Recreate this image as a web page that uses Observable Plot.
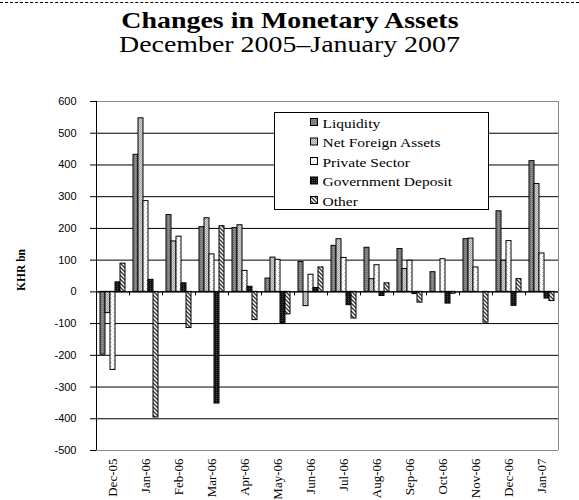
<!DOCTYPE html>
<html>
<head>
<meta charset="utf-8">
<script src="https://cdn.jsdelivr.net/npm/d3@7"></script>
<script src="https://cdn.jsdelivr.net/npm/@observablehq/plot@0.6"></script>
<style>
  body { margin: 0; background: #fff; }
  #wrap { position: relative; width: 579px; height: 500px; overflow: hidden; background: #fff; }
  #dash { position: absolute; left: 0; top: 2px; width: 579px; border-top: 1px dashed #000; }
  .ttl { position: absolute; left: 0; width: 579px; text-align: center; white-space: nowrap;
         font-family: "Liberation Serif", "Times New Roman", serif; font-size: 22.5px; color: #000; line-height: 25px; }
  .ttl span { display: inline-block; transform: scaleX(1.24); transform-origin: center; }
  #title { top: 8px; font-weight: bold; }
  #subtitle { top: 32px; }
  #chart { position: absolute; left: 0; top: 70px; }
  #ylabel { position: absolute; left: 21px; top: 270px; transform: translate(-50%, -50%) rotate(-90deg);
            font-family: "Liberation Serif", "Times New Roman", serif; font-weight: bold; font-size: 11.5px; white-space: nowrap; }
  #legend { position: absolute; left: 274px; top: 112px; }
  #chart svg [aria-label="y-axis tick label"] text { font-family: "Liberation Sans", Arial, sans-serif; font-size: 11px; }
  #chart svg [aria-label="fx-axis tick label"] text { font-family: "Liberation Serif", "Times New Roman", serif; font-size: 13px; }
</style>
</head>
<body>
<div id="wrap">
  <svg width="0" height="0" style="position:absolute">
    <defs>
      <pattern id="pLiq" width="2" height="2" patternUnits="userSpaceOnUse">
        <rect width="2" height="2" fill="#8a8a8a"/><rect width="1" height="1" fill="#666666"/>
      </pattern>
      <pattern id="pNfa" width="2" height="2" patternUnits="userSpaceOnUse">
        <rect width="2" height="2" fill="#d6d6d6"/><rect width="1" height="1" fill="#a4a4a4"/><rect x="1" y="1" width="1" height="1" fill="#a4a4a4"/>
      </pattern>
      <pattern id="pPriv" width="4" height="4" patternUnits="userSpaceOnUse">
        <rect width="4" height="4" fill="#ffffff"/><rect width="1" height="1" fill="#c4c4c4"/><rect x="2" y="2" width="1" height="1" fill="#c4c4c4"/>
      </pattern>
      <pattern id="pGov" width="2" height="2" patternUnits="userSpaceOnUse">
        <rect width="2" height="2" fill="#111111"/><rect width="1" height="1" fill="#4a4a4a"/>
      </pattern>
      <pattern id="pOther" width="4" height="4" patternUnits="userSpaceOnUse">
        <rect width="4" height="4" fill="#ffffff"/>
        <path d="M-1,-1 L5,5 M-1,3 L1,5 M3,-1 L5,1" stroke="#333333" stroke-width="1.3"/>
      </pattern>
    </defs>
  </svg>
  <div id="dash"></div>
  <div id="title" class="ttl"><span>Changes in Monetary Assets</span></div>
  <div id="subtitle" class="ttl"><span>December 2005–January 2007</span></div>
  <div id="chart"></div>
  <div id="ylabel">KHR bn</div>
  <div id="legend"></div>
</div>
<script>
// ---- data ----
const months = ["Dec-05","Jan-06","Feb-06","Mar-06","Apr-06","May-06","Jun-06","Jul-06","Aug-06","Sep-06","Oct-06","Nov-06","Dec-06","Jan-07"];
const seriesNames = ["Liquidity","Net Foreign Assets","Private Sector","Government Deposit","Other"];
const liquidity         = [-198, 432, 242, 204, 201,  42,  94, 145, 139, 135,  62, 166, 254, 412];
const netForeignAssets  = [ -67, 547, 159, 232, 210, 108, -45, 166,  40,  72,   0, 168,  98, 340];
const privateSector     = [-246, 286, 174, 118,  66, 101,  54, 107,  84,  98, 103,  77, 160, 121];
const governmentDeposit = [  30,  38,  27,-352,  16,-100,  12, -42, -13,  -7, -37,   0, -44, -21];
const other             = [  89,-396,-114, 207, -89, -71,  77, -84,  27, -34,  -6, -97,  40, -29];
const yTicks = [-500,-400,-300,-200,-100,0,100,200,300,400,500,600];

// ---- styles ----
const fills = ["url(#pLiq)","url(#pNfa)","url(#pPriv)","url(#pGov)","url(#pOther)"];

const seriesValues = [liquidity, netForeignAssets, privateSector, governmentDeposit, other];
const rows = [];
months.forEach((m, mi) => seriesNames.forEach((s, si) => rows.push({month: m, series: s, value: seriesValues[si][mi]})));

const plot = Plot.plot({
  width: 579,
  height: 430,
  marginTop: 31,
  marginBottom: 50,
  marginLeft: 93,
  marginRight: 18,
  style: {background: "transparent", color: "#000", fontFamily: "'Liberation Serif', 'Times New Roman', serif"},
  fx: {domain: months, padding: 0, label: null, axis: "bottom", tickRotate: -90, tickSize: 0, tickPadding: 8},
  x: {domain: seriesNames, paddingInner: 0, paddingOuter: 0.27, axis: null},
  y: {domain: [-500, 600], ticks: yTicks, tickSize: 6, tickPadding: 14, label: null, axis: "left", tickFormat: d => String(d)},
  color: {domain: seriesNames, range: fills},
  marks: [
    Plot.gridY(yTicks.filter(t => t !== 600 && t !== -500), {stroke: "#000", strokeOpacity: 1}),
    Plot.gridY([600, -500], {stroke: "#8a8a8a", strokeOpacity: 1}),
    Plot.barY(rows, {fx: "month", x: "series", y: "value", fill: "series", stroke: "#000", strokeWidth: 1}),
    Plot.ruleY([0], {stroke: "#000"})
  ]
});
document.getElementById("chart").appendChild(plot);

// axis lines and category ticks drawn from the plot's own scales
const fxS = plot.scale("fx"), yS = plot.scale("y");
const svg = d3.select(plot);
const xl = Math.round(fxS.apply(months[0])) + 0.5;
const xr = Math.round(fxS.apply(months[months.length - 1]) + fxS.bandwidth) + 0.5;
const yTop = yS.apply(600), yBot = yS.apply(-500), yZero = yS.apply(0);
svg.append("line").attr("x1", xr).attr("x2", xr).attr("y1", yTop).attr("y2", yBot).attr("stroke", "#8a8a8a");
svg.append("line").attr("x1", xl).attr("x2", xl).attr("y1", yTop).attr("y2", yBot).attr("stroke", "#000");
months.forEach((m, i) => {
  if (i === 0) return;
  const xb = Math.round(fxS.apply(m)) + 0.5;
  svg.append("line").attr("x1", xb).attr("x2", xb).attr("y1", yZero).attr("y2", yZero + 4).attr("stroke", "#000");
});

// legend
const lg = d3.select("#legend").append("svg").attr("width", 216).attr("height", 99);
lg.append("rect").attr("x", 0.5).attr("y", 0.5).attr("width", 214).attr("height", 97).attr("fill", "#fff").attr("stroke", "#000");
seriesNames.forEach((s, i) => {
  const yy = 6 + i * 19.5;
  lg.append("rect").attr("x", 36.5).attr("y", yy + 0.5).attr("width", 7).attr("height", 7)
    .attr("fill", fills[i]).attr("stroke", "#000");
  lg.append("text").attr("transform", `translate(48.5,${yy + 9.5}) scale(1.24,1)`)
    .attr("font-family", "'Liberation Serif', 'Times New Roman', serif").attr("font-size", 12.5)
    .text(s);
});
</script>
</body>
</html>
